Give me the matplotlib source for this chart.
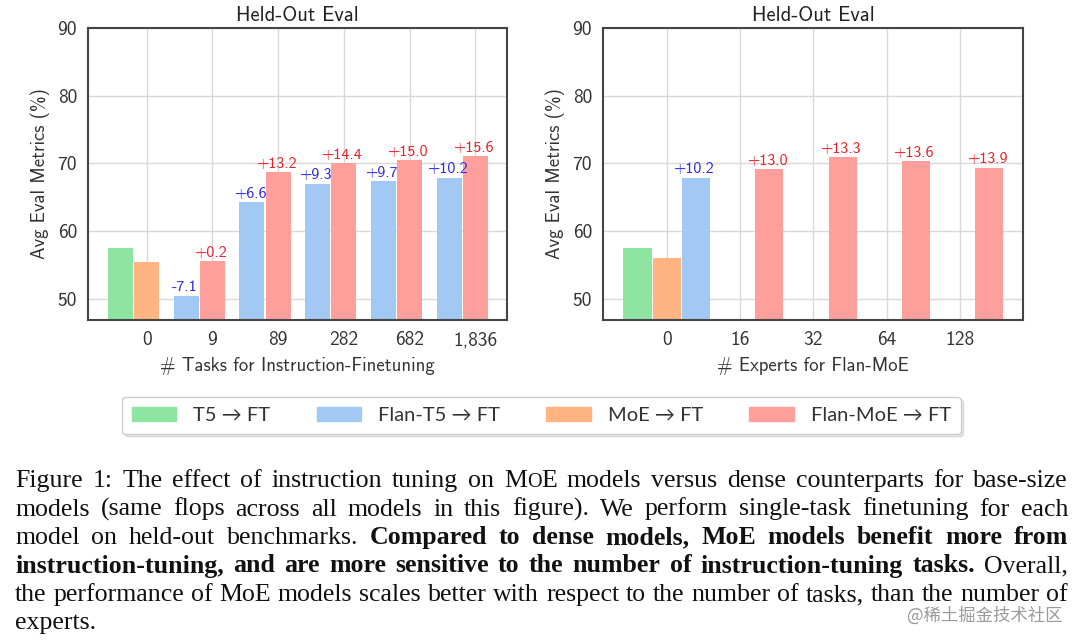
import matplotlib
matplotlib.use("Agg")
import matplotlib.pyplot as plt
from matplotlib.patches import Patch

# ---- data ----
task_labels = ['0', '9', '89', '282', '682', '1,836']
t5_ft = 57.6
moe_ft_tasks = 55.4
flan_t5_tasks = [50.5, 64.3, 67.0, 67.4, 67.9]
flan_t5_tasks_txt = ['-7.1', '+6.6', '+9.3', '+9.7', '+10.2']
flan_moe_tasks = [55.6, 68.7, 70.0, 70.5, 71.1]
flan_moe_tasks_txt = ['+0.2', '+13.2', '+14.4', '+15.0', '+15.6']

expert_labels = ['0', '16', '32', '64', '128']
moe_ft_experts = 56.1
flan_t5_experts = 67.9
flan_t5_experts_txt = '+10.2'
flan_moe_experts = [69.2, 70.9, 70.3, 69.4]
flan_moe_experts_txt = ['+13.0', '+13.3', '+13.6', '+13.9']

legend_labels = ['T5 → FT', 'Flan-T5 → FT', 'MoE → FT', 'Flan-MoE → FT']

GREEN, BLUE, ORANGE, RED = '#8de5a1', '#a1c9f4', '#ffb482', '#ff9f9b'
W, H = 1080, 643
SANS = ['cmss10', 'DejaVu Sans']
plt.rcParams['font.family'] = SANS
plt.rcParams['axes.unicode_minus'] = False

fig = plt.figure(figsize=(W / 100, H / 100), dpi=100)
ax1 = fig.add_axes([88 / W, 1 - 320 / H, 419 / W, 292 / H])
ax2 = fig.add_axes([603 / W, 1 - 320 / H, 420 / W, 292 / H])


def style(ax, labels, xlabel, xlim):
    ax.set_ylim(46.9, 90)
    ax.set_xlim(*xlim)
    ax.set_yticks([50, 60, 70, 80, 90])
    ax.set_xticks(range(len(labels)))
    ax.set_xticklabels(labels)
    ax.tick_params(length=0, labelsize=14, colors='#333333', pad=8)
    ax.grid(True, color='#d9d9d9', linewidth=1)
    ax.set_axisbelow(True)
    for s in ax.spines.values():
        s.set_color('#454545')
        s.set_linewidth(1.5)
    ax.set_title('Held-Out Eval', fontsize=14.8, color='#222222', pad=5)
    ax.set_ylabel('Avg Eval Metrics (%)', fontsize=13.5, color='#333333', labelpad=5)
    ax.set_xlabel(xlabel, fontsize=13.5, color='#333333', labelpad=6)


def label(ax, x, h, txt, color):
    ax.annotate(txt, (x - 0.03, h), xytext=(0, 1), textcoords='offset points',
                ha='center', va='bottom', fontsize=11.5, color=color)


# left panel: number of tasks
bw = 0.38
ax1.bar(-0.4, t5_ft, bw, color=GREEN)
ax1.bar(0, moe_ft_tasks, bw, color=ORANGE)
for i in range(len(flan_t5_tasks)):
    x = i + 1
    ax1.bar(x - 0.4, flan_t5_tasks[i], bw, color=BLUE)
    ax1.bar(x, flan_moe_tasks[i], bw, color=RED)
    label(ax1, x - 0.4, flan_t5_tasks[i], flan_t5_tasks_txt[i], '#2a2ae6')
    label(ax1, x, flan_moe_tasks[i], flan_moe_tasks_txt[i], '#e8202a')
style(ax1, task_labels, '# Tasks for Instruction-Finetuning', (-0.893, 5.48))

# right panel: number of experts
bw = 0.386
ax2.bar(-0.4, t5_ft, bw, color=GREEN)
ax2.bar(0, moe_ft_experts, bw, color=ORANGE)
ax2.bar(0.4, flan_t5_experts, bw, color=BLUE)
label(ax2, 0.4, flan_t5_experts, flan_t5_experts_txt, '#2a2ae6')
for i in range(len(flan_moe_experts)):
    x = i + 1.4
    ax2.bar(x, flan_moe_experts[i], bw, color=RED)
    label(ax2, x, flan_moe_experts[i], flan_moe_experts_txt[i], '#e8202a')
style(ax2, expert_labels, '# Experts for Flan-MoE', (-0.869, 4.86))

handles = [Patch(color=c) for c in (GREEN, BLUE, ORANGE, RED)]
leg = fig.legend(handles, legend_labels, ncol=4, loc='center',
                 bbox_to_anchor=(541.5 / W, 1 - 415.5 / H),
                 prop={'family': ['Lato', 'DejaVu Sans'], 'size': 14.5},
                 handlelength=2.2, handleheight=0.7, handletextpad=0.85,
                 columnspacing=2.3, borderpad=0.5, fancybox=True,
                 shadow={'alpha': 0.2, 'color': '#888888'}, framealpha=1,
                 edgecolor='#cccccc')
for t in leg.get_texts():
    t.set_color('#333333')

# ---- caption, justified by hand ----
caption = [
    [('Figure', 0), ('1:', 0), ('The', 0), ('effect', 0), ('of', 0), ('instruction', 0), ('tuning', 0),
     ('on', 0), ('MOE', 2), ('models', 0), ('versus', 0), ('dense', 0), ('counterparts', 0), ('for', 0),
     ('base-size', 0)],
    [(w, 0) for w in 'models (same flops across all models in this figure). We perform single-task '
                     'finetuning for each'.split()],
    [(w, 0) for w in 'model on held-out benchmarks.'.split()] +
    [(w, 1) for w in 'Compared to dense models, MoE models benefit more from'.split()],
    [(w, 1) for w in 'instruction-tuning, and are more sensitive to the number of instruction-tuning '
                     'tasks.'.split()] + [('Overall,', 0)],
    [(w, 0) for w in 'the performance of MoE models scales better with respect to the number of tasks, '
                     'than the number of'.split()],
    [('experts.', 0)],
]
CAP_FONT = 'Liberation Serif'
CAP_SIZE = 18.6
x0, x1 = 15, 1068
baselines = [487, 515.5, 544, 572.5, 601, 629]
renderer = fig.canvas.get_renderer()


def put(x, y, s, bold, scale=1.0):
    t = fig.text(x / W, 1 - y / H, s, family=CAP_FONT, fontsize=CAP_SIZE * scale,
                 fontweight='bold' if bold else 'normal', va='baseline', ha='left', color='#111111')
    return t


def width(s, bold, scale=1.0):
    t = put(0, 0, s, bold, scale)
    w = t.get_window_extent(renderer).width
    t.remove()
    return w


def word_parts(w, kind):
    if kind == 2:  # small caps MoE
        return [('M', False, 1.0), ('O', False, 0.78), ('E', False, 1.0)]
    return [(w, kind == 1, 1.0)]


for li, line in enumerate(caption):
    widths = [sum(width(p, b, sc) for p, b, sc in word_parts(w, k)) for w, k in line]
    if len(line) == 1:
        gap = 0
    else:
        gap = (x1 - x0 - sum(widths)) / (len(line) - 1)
    x = x0
    for (w, k), ww in zip(line, widths):
        px = x
        for p, b, sc in word_parts(w, k):
            put(px, baselines[li], p, b, sc)
            px += width(p, b, sc)
        x += ww + gap

fig.text(1062 / W, 1 - 616 / H, '@稀土掘金技术社区', family=['Noto Sans CJK SC', 'DejaVu Sans'],
         fontsize=12.5, color='#9a9a9a', ha='right', va='center')

fig.savefig('out.png', dpi=100, facecolor='white')
